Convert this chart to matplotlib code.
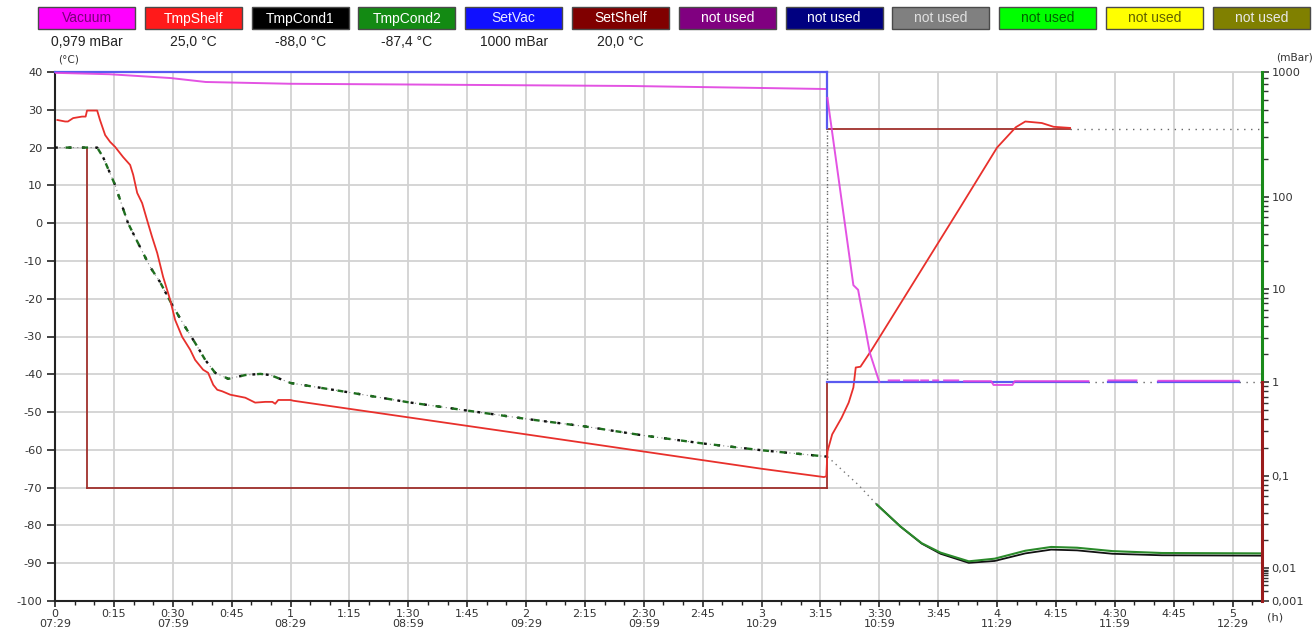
import numpy as np
import matplotlib
matplotlib.use("Agg")
import matplotlib.pyplot as plt
from matplotlib.patches import Rectangle
from matplotlib.ticker import FixedLocator, NullFormatter

# ---------------- data ----------------
legend_names = ["Vacuum", "TmpShelf", "TmpCond1", "TmpCond2", "SetVac", "SetShelf",
                "not used", "not used", "not used", "not used", "not used", "not used"]
legend_values = ["0,979 mBar", "25,0 °C", "-88,0 °C", "-87,4 °C", "1000 mBar", "20,0 °C",
                 "", "", "", "", "", ""]
legend_colors = ["#ff00ff", "#ff1a1a", "#000000", "#138a13", "#1010ff", "#800000",
                 "#800080", "#000080", "#808080", "#00ff00", "#ffff00", "#808000"]
legend_text_colors = ["#7a007a", "#ffffff", "#ffffff", "#ffffff", "#e8e8ff", "#ffffff",
                      "#ffffff", "#ffffff", "#e0e0e0", "#006000", "#606000", "#e8e8e8"]

xtick_hours = [0, 0.25, 0.5, 0.75, 1, 1.25, 1.5, 1.75, 2, 2.25, 2.5, 2.75,
               3, 3.25, 3.5, 3.75, 4, 4.25, 4.5, 4.75, 5]
xtick_top = ["0", "0:15", "0:30", "0:45", "1", "1:15", "1:30", "1:45", "2", "2:15", "2:30",
             "2:45", "3", "3:15", "3:30", "3:45", "4", "4:15", "4:30", "4:45", "5"]
xtick_clock = ["07:29", "", "07:59", "", "08:29", "", "08:59", "", "09:29", "", "09:59", "",
               "10:29", "", "10:59", "", "11:29", "", "11:59", "", "12:29"]

temp_ticks = [-100, -90, -80, -70, -60, -50, -40, -30, -20, -10, 0, 10, 20, 30, 40]
press_ticks = [0.001, 0.01, 0.1, 1, 10, 100, 1000]
press_labels = ["0,001", "0,01", "0,1", "1", "10", "100", "1000"]
# the recorder's pressure axis: decade -> position (axis px from bottom)
press_decades = [-3, -2, -1, 0, 1, 2, 3]
press_positions = [0, 33, 125, 219, 312, 404, 529]

# TmpShelf (°C) vs time (h)
shelf_t = [0.01, 0.043, 0.055, 0.077, 0.115, 0.13, 0.136, 0.179, 0.191, 0.213, 0.234, 0.255,
           0.289, 0.319, 0.332, 0.349, 0.370, 0.391, 0.412, 0.434, 0.459, 0.489, 0.510, 0.540,
           0.574, 0.595, 0.629, 0.650, 0.672, 0.689, 0.710, 0.744, 0.808, 0.850, 0.893, 0.923,
           0.935, 0.948, 1.0, 1.012, 2.0, 3.0, 3.265, 3.275, 3.28, 3.30, 3.34, 3.37, 3.39, 3.40,
           3.42, 3.465, 3.5, 3.84, 4.0, 4.08, 4.12, 4.19, 4.24, 4.31]
shelf_T = [27.3, 26.9, 26.9, 27.8, 28.2, 28.2, 29.8, 29.8, 27.3, 23.3, 21.5, 20.2,
           17.5, 15.4, 12.8, 8.0, 5.3, 0.8, -3.6, -7.9, -14.2, -20.3, -25.6, -30.1,
           -33.5, -36.2, -38.8, -39.6, -42.8, -44.1, -44.5, -45.4, -46.2, -47.5, -47.3, -47.3,
           -47.8, -46.8, -46.8, -47.0, -55.9, -65.0, -67.2, -67.0, -60.4, -55.9, -51.5, -47.5, -43.5, -38.2,
           -38.0, -33.8, -30.3, 3.8, 20.0, 25.4, 26.9, 26.5, 25.5, 25.2]

# Condenser temperatures (°C)
cond_t = [0, 0.179, 0.204, 0.255, 0.31, 0.361, 0.404, 0.446, 0.497, 0.553, 0.595, 0.638,
          0.680, 0.736, 0.808, 0.872, 0.914, 1.0, 1.25, 1.5, 1.75, 2.0, 2.25, 2.5, 2.75, 3.0,
          3.28, 3.41, 3.49, 3.59, 3.68, 3.76, 3.88, 3.99, 4.12, 4.23, 4.34, 4.49, 4.7, 5.125]
cond2_T = [20, 20, 17.5, 10.1, 0, -6.3, -11.6, -15.6, -21.6, -27.5, -31.7, -36.2,
           -39.6, -41.2, -40.2, -39.9, -40.2, -42.3, -44.8, -47.4, -49.6, -51.8, -53.8, -56.2,
           -58.3, -60.1, -61.8, -69.2, -74.5, -80.3, -84.7, -87.2, -89.5, -88.8, -86.7, -85.7,
           -85.9, -86.8, -87.3, -87.4]
cond1_T = [20, 20, 17.5, 10.1, 0, -6.3, -11.6, -15.6, -21.6, -27.5, -31.7, -36.2,
           -39.6, -41.2, -40.2, -39.9, -40.2, -42.3, -44.8, -47.4, -49.6, -51.8, -53.8, -56.2,
           -58.3, -60.1, -61.8, -69.2, -74.5, -80.3, -84.8, -87.5, -89.9, -89.4, -87.4, -86.4,
           -86.6, -87.5, -87.9, -88.0]

# SetShelf (°C)
setshelf_t = [0.136, 0.136, 3.28, 3.28, 3.28, 4.31, 5.125]
setshelf_T = [20, -70, -70, -42, 25, 25, 25]
setshelf_solid = [True, True, True, False, True, False]

# SetVac (mbar)
setvac_t = [0, 3.28, 3.28, 3.28, 4.388, 4.473, 4.592, 4.685, 5.026, 5.125]
setvac_p = [1000, 1000, 356, 1, 1, 1, 1, 1, 1, 1]
setvac_solid = [True, True, False, True, False, True, False, True, False]

# Vacuum (mbar), NaN = no record
vac_t = [0, 0.23, 0.49, 0.64, 1.0, 1.47, 2.44, 3.0, 3.27, np.nan,
         3.28, 3.285, 3.39, 3.41, 3.46, 3.50, np.nan,
         3.54, 3.584, np.nan, 3.605, 3.665, np.nan, 3.678, 3.707, np.nan,
         3.729, 3.75, np.nan, 3.775, 3.835, np.nan,
         3.86, 3.975, 3.985, 4.065, 4.075, 4.388, np.nan,
         4.473, 4.592, np.nan, 4.685, 5.026]
vac_p = [985, 960, 895, 832, 805, 795, 773, 745, 731, np.nan,
         620, 525, 11.0, 9.8, 2.05, 1.0, np.nan,
         1.04, 1.04, np.nan, 1.04, 1.04, np.nan, 1.04, 1.04, np.nan,
         1.04, 1.04, np.nan, 1.04, 1.04, np.nan,
         1.02, 1.02, 0.93, 0.93, 1.02, 1.02, np.nan,
         1.04, 1.04, np.nan, 1.03, 1.03]

# ---------------- figure ----------------
W, H = 1316, 634
fig = plt.figure(figsize=(W / 100, H / 100), dpi=100)
fig.patch.set_facecolor("white")

left_px, right_px, top_px, bot_px = 55, 1262, 72, 601
ax = fig.add_axes([left_px / W, (H - bot_px) / H, (right_px - left_px) / W, (bot_px - top_px) / H])
ax.set_xlim(0, 5.125)
ax.set_ylim(-100, 40)

grid_c = "#d2d2d2"
tick_fs = 8.2
ax.set_xticks(xtick_hours)
ax.set_xticks(np.arange(0, 5.13, 1 / 12), minor=True)
ax.set_xticklabels([a + ("\n" + b if b else "") for a, b in zip(xtick_top, xtick_clock)],
                   fontsize=8.0, color="#333333", linespacing=1.05)
ax.set_yticks(temp_ticks)
ax.set_yticklabels([str(v) for v in temp_ticks], fontsize=tick_fs, color="#333333")
ax.tick_params(axis="x", which="major", length=4, width=1.2, color="#222222", pad=1.5)
ax.tick_params(axis="x", which="minor", length=3, width=1.0, color="#222222")
ax.tick_params(axis="y", which="major", length=6, width=1.2, color="#222222", pad=3)
ax.grid(True, which="major", color=grid_c, lw=1.3)
ax.set_axisbelow(True)
for s in ["left", "bottom"]:
    ax.spines[s].set_color("#222222")
    ax.spines[s].set_linewidth(1.5)
ax.spines["top"].set_color(grid_c)
ax.spines["top"].set_linewidth(1.3)
ax.spines["right"].set_visible(False)

cond_t_a = np.array(cond_t)
c1 = np.array(cond1_T)
c2 = np.array(cond2_T)
early = cond_t_a <= 3.28
mid = (cond_t_a >= 3.28) & (cond_t_a <= 3.49)
late = cond_t_a >= 3.49

# SetShelf
for i, solid in enumerate(setshelf_solid):
    seg_t = setshelf_t[i:i + 2]
    seg_T = setshelf_T[i:i + 2]
    if solid:
        ax.plot(seg_t, seg_T, color="#a0302c", lw=1.3, zorder=3)
    else:
        ax.plot(seg_t, seg_T, color="#666666", lw=1.0, ls=(0, (1, 4)), zorder=3)

# Condenser temps
ax.plot(cond_t_a[early], c1[early], color="#888888", lw=0.8, ls=(0, (1, 3)), zorder=4)
ax.plot(cond_t_a[early], c1[early], color="#111111", lw=1.7, ls=(0, (1.2, 4.5)), zorder=4)
ax.plot(cond_t_a[early], c2[early], color="#1e6e1e", lw=1.7, ls=(2.5, (2.5, 4.5)), zorder=4)
ax.plot(cond_t_a[mid], c1[mid], color="#777777", lw=1.0, ls=(0, (1, 3)), zorder=4)
ax.plot(cond_t_a[late], c1[late], color="#111111", lw=1.3, zorder=4)
ax.plot(cond_t_a[late], c2[late], color="#2a8a2a", lw=1.5, zorder=5)

# TmpShelf
ax.plot(shelf_t, shelf_T, color="#e8302c", lw=1.3, zorder=6)

# ---------------- pressure axis ----------------
ax2 = ax.twinx()


def p_fwd(v):
    v = np.asarray(v, dtype=float)
    with np.errstate(divide="ignore", invalid="ignore"):
        lg = np.log10(np.clip(v, 1e-12, None))
    return np.interp(lg, press_decades, press_positions)


def p_inv(y):
    y = np.asarray(y, dtype=float)
    return 10.0 ** np.interp(y, press_positions, press_decades)


ax2.set_yscale("function", functions=(p_fwd, p_inv))
ax2.set_ylim(0.001, 1000)
ax2.yaxis.set_major_locator(FixedLocator(press_ticks))
ax2.set_yticklabels(press_labels, fontsize=tick_fs, color="#333333")
minor = [k * 10.0 ** d for d in range(-3, 3) for k in range(2, 10)]
ax2.yaxis.set_minor_locator(FixedLocator(minor))
ax2.yaxis.set_minor_formatter(NullFormatter())
ax2.tick_params(axis="y", which="major", length=5, width=1.2, color="#333333", pad=2)
ax2.tick_params(axis="y", which="minor", length=4, width=1.0, color="#333333")
for s in ["left", "right", "top", "bottom"]:
    ax2.spines[s].set_visible(False)

# coloured right axis line (pressure axis)
yt = ax2.get_yaxis_transform()
ax2.plot([1, 1], [1, 1000], color="#1a8a1a", lw=2.2, transform=yt, clip_on=False, zorder=10)
ax2.plot([1, 1], [0.001, 1], color="#9a1c1c", lw=2.2, transform=yt, clip_on=False, zorder=10)

# SetVac
for i, solid in enumerate(setvac_solid):
    seg_t = setvac_t[i:i + 2]
    seg_p = setvac_p[i:i + 2]
    if solid:
        ax2.plot(seg_t, seg_p, color="#5a5af0", lw=1.6, zorder=7, clip_on=False)
    else:
        ax2.plot(seg_t, seg_p, color="#666666", lw=1.0, ls=(0, (1, 4)), zorder=6)

# Vacuum
vt = np.array(vac_t)
vp = np.array(vac_p)
ax2.plot(vt, vp, color="#e040e0", lw=1.4, zorder=8, alpha=0.9)

# ---------------- header / unit labels ----------------
box_x0, box_step, box_w, box_y, box_h = 38, 106.8, 97, 7, 22
for i, (name, val, fc, tc) in enumerate(zip(legend_names, legend_values,
                                            legend_colors, legend_text_colors)):
    x = box_x0 + i * box_step
    fig.patches.append(Rectangle((x / W, 1 - (box_y + box_h) / H), box_w / W, box_h / H,
                                 transform=fig.transFigure, facecolor=fc,
                                 edgecolor="#4a4a4a", lw=1.0))
    fig.text((x + box_w / 2) / W, 1 - (box_y + box_h / 2 + 0.5) / H, name,
             ha="center", va="center", color=tc, fontsize=10, family="Liberation Sans")
    if val:
        fig.text((x + box_w / 2) / W, 1 - 42 / H, val, ha="center", va="center",
                 color="#222222", fontsize=10, family="Liberation Sans")

fig.text(58 / W, 1 - 59 / H, "(°C)", ha="left", va="center", fontsize=7.6, color="#333333")
fig.text(1313 / W, 1 - 58 / H, "(mBar)", ha="right", va="center", fontsize=7.6, color="#333333")
fig.text(1267 / W, 1 - 618 / H, "(h)", ha="left", va="center", fontsize=8.2, color="#333333")

fig.savefig("out.png", dpi=100, facecolor="white")
